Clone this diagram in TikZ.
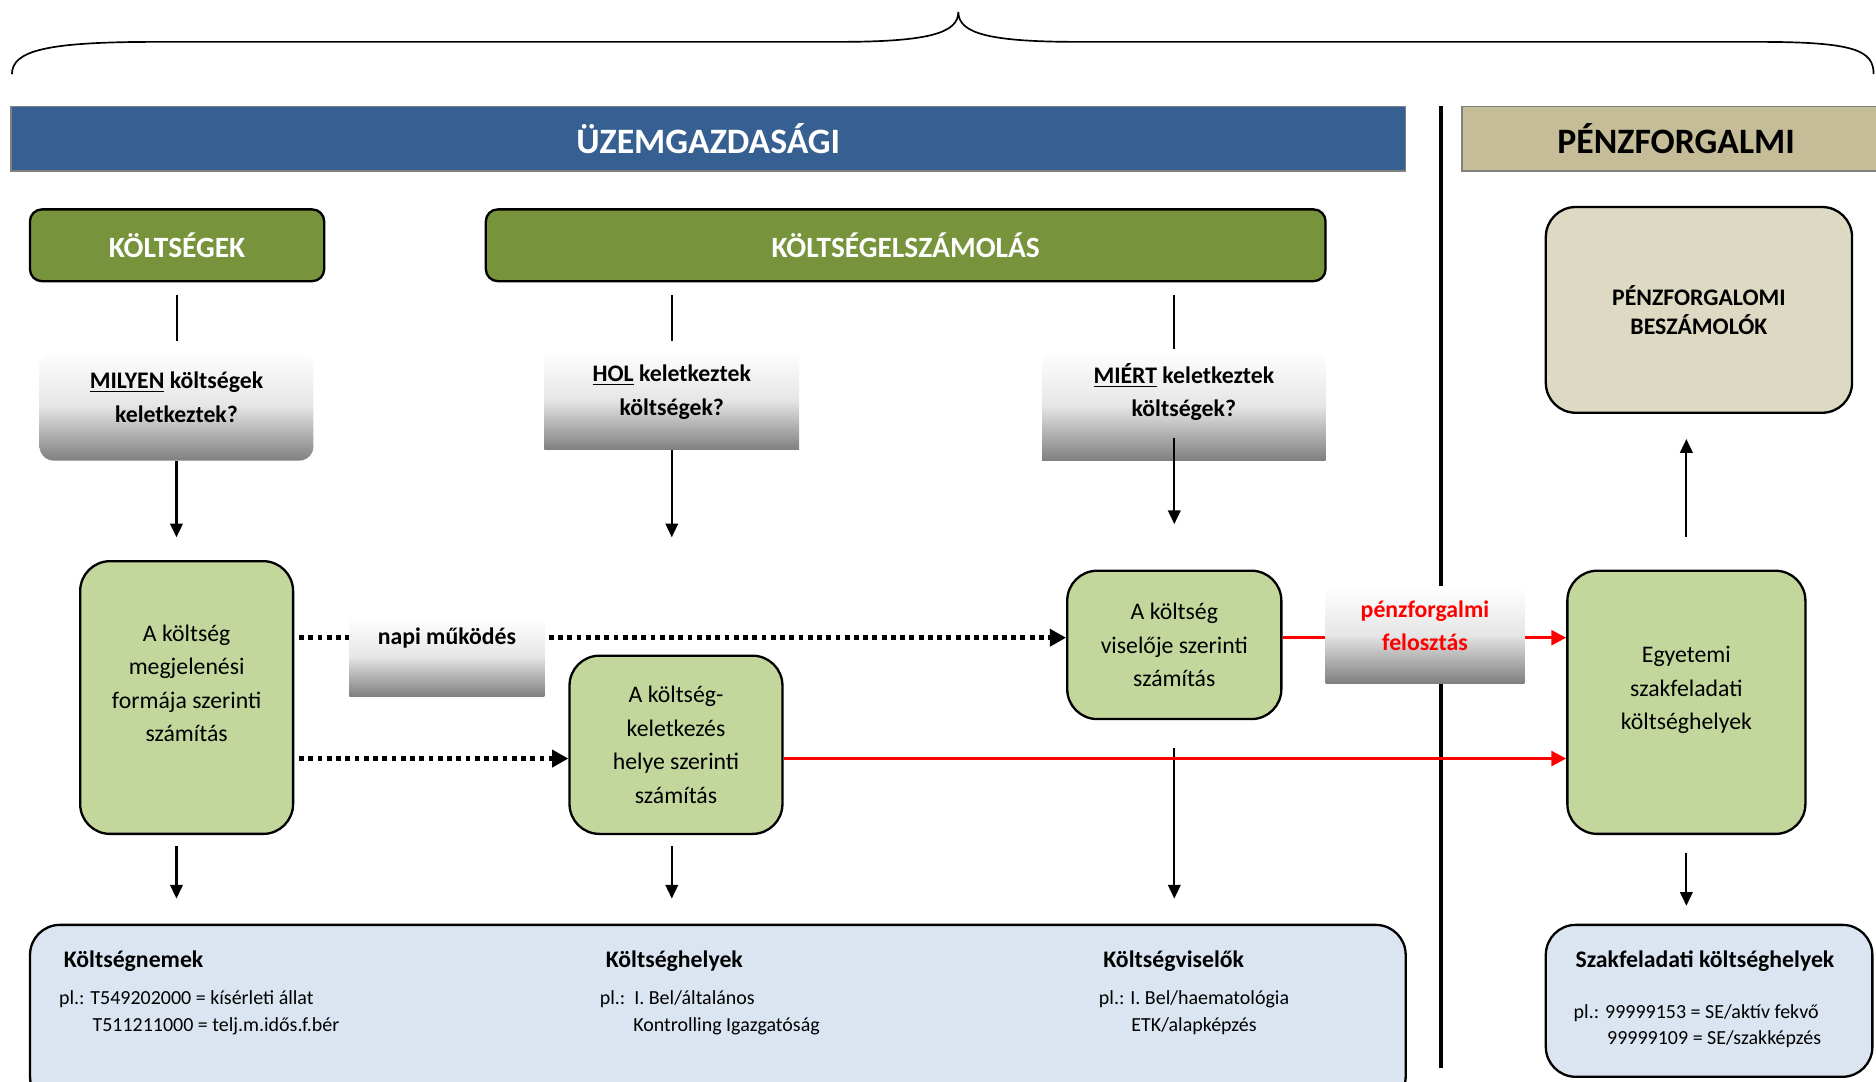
\documentclass[tikz,border=0pt]{standalone}
\usepackage{fontspec}
\setmainfont{Carlito}
\usepackage{tikz}
\usetikzlibrary{arrows.meta,positioning}
\definecolor{uzemkek}{RGB}{55,96,146}
\definecolor{penzbarna}{RGB}{196,189,151}
\definecolor{sotetzold}{RGB}{119,147,60}
\definecolor{vilagoszold}{RGB}{195,214,155}
\definecolor{bezs}{RGB}{221,217,195}
\definecolor{halvanykek}{RGB}{219,229,241}

\begin{document}
\begin{tikzpicture}[x=0.02cm, y=-0.02cm,
	every node/.style={inner sep=0pt, align=center, font=\fontsize{11.3}{15.9}\selectfont},
	bar/.style={draw=gray, line width=0.6pt, minimum height=1.08cm, font=\fontsize{17}{20}\selectfont\bfseries},
	hdr/.style={draw, line width=1.1pt, rounded corners=0.2cm, fill=sotetzold, text=white, minimum height=1.2cm, font=\fontsize{14}{17}\selectfont\bfseries},
	kerdes/.style={top color=white, bottom color=black!50, middle color=black!10, font=\fontsize{11.3}{15.9}\selectfont\bfseries},
	szamit/.style={draw, line width=1.1pt, rounded corners=0.5cm, fill=vilagoszold},
	pelda/.style={draw, line width=1.1pt, rounded corners=0.5cm, fill=halvanykek},
	fej/.style={font=\fontsize{11.3}{14}\selectfont\bfseries},
	pl/.style={align=left, font=\fontsize{9.5}{12.5}\selectfont},
	vonal/.style={line width=1pt},
	nyil/.style={line width=1pt, -{Triangle[length=0.23cm, width=0.21cm]}},
	pontozott/.style={line width=2.3pt, dash pattern=on 2.3pt off 2.1pt, -{Triangle[length=0.27cm, width=0.28cm]}},
	piros/.style={red, line width=1.4pt, -{Triangle[length=0.25cm, width=0.25cm]}}]
	\useasboundingbox (0,0) rectangle (1568,904);
	\clip (0,0) rectangle (1568,904);
	\draw[line width=0.8pt] (10,62) .. controls (10,42) and (40,35) .. (130,35) -- (700,35) .. controls (775,35) and (801,28) .. (801,10) .. controls (801,28) and (827,35) .. (902,35) -- (1470,35) .. controls (1550,35) and (1566,42) .. (1566,62);
	\node (uzem) at (592,116) [bar, fill=uzemkek, text=white, minimum width=23.32cm] {ÜZEMGAZDASÁGI};
	\coordinate (valaszt1) at (1204,89);
	\coordinate (valaszt2) at (1204,893);
	\draw[line width=1.9pt] (valaszt1) -- (valaszt2);
	\node (penzfej) at (1401,116) [bar, fill=penzbarna, minimum width=7.16cm] {PÉNZFORGALMI};
	\node (kolt) at (148,205) [hdr, minimum width=4.92cm] {KÖLTSÉGEK};
	\node (kelsz) at (757,205) [hdr, minimum width=14.04cm] {KÖLTSÉGELSZÁMOLÁS};
	\node (milyen) at (147.5,339) [kerdes, rounded corners=0.24cm, minimum width=4.58cm, minimum height=1.84cm, text depth=0.28cm] {\underline{MILYEN} költségek\\keletkeztek?};
	\node (hol) at (561.5,334.5) [kerdes, minimum width=4.26cm, minimum height=1.66cm, text depth=0.34cm] {\underline{HOL} keletkeztek\\költségek?};
	\node (mier) at (989.5,339) [kerdes, minimum width=4.74cm, minimum height=1.84cm, text depth=0.52cm] {\underline{MIÉRT} keletkeztek\\költségek?};
	\node (box1) at (156,583) [szamit, minimum width=3.56cm, minimum height=4.56cm, text depth=0.48cm] {A költség\\megjelenési\\formája szerinti\\számítás};
	\node (box2) at (565,622.5) [szamit, minimum width=3.56cm, minimum height=2.98cm] {A költség-\\keletkezés\\helye szerinti\\számítás};
	\node (box3) at (981.5,539) [szamit, minimum width=3.58cm, minimum height=2.48cm] {A költség\\viselője szerinti\\számítás};
	\node (box4) at (1409.5,587) [szamit, minimum width=3.98cm, minimum height=4.4cm, text depth=0.48cm] {Egyetemi\\szakfeladati\\költséghelyek};
	\node (beszam) at (1420,259) [draw, line width=1.1pt, rounded corners=0.5cm, fill=bezs, minimum width=5.12cm, minimum height=3.44cm, font=\fontsize{11.3}{13.7}\selectfont\bfseries] {PÉNZFORGALOMI\\BESZÁMOLÓK};
	\node (also) at (600,849) [pelda, minimum width=23cm, minimum height=3.04cm] {};
	\node (jobbalso) at (1428.5,836.5) [pelda, minimum width=5.46cm, minimum height=2.54cm] {};
	\node (nemek) at (53,803) [fej, anchor=west] {Költségnemek};
	\node (nemekpl) at (49,828) [pl, anchor=north west] {pl.: T549202000 = kísérleti állat\\\hspace*{0.56cm}T511211000 = telj.m.idős.f.bér};
	\node (helyek) at (506,803) [fej, anchor=west] {Költséghelyek};
	\node (helyekpl) at (501,828) [pl, anchor=north west] {pl.:\ \ I. Bel/általános\\\hspace*{0.56cm}Kontrolling Igazgatóság};
	\node (viselok) at (981,803) [fej] {Költségviselők};
	\node (viselokpl) at (998,828) [pl, align=center, anchor=north] {pl.: I. Bel/haematológia\\ETK/alapképzés};
	\node (szakfej) at (1425,803) [fej] {Szakfeladati költséghelyek};
	\node (szakpl) at (1315,839) [pl, anchor=north west] {pl.: 99999153 = SE/aktív fekvő\\\hspace*{0.56cm}99999109 = SE/szakképzés};
	\coordinate (sor1) at (0,533);
	\coordinate (sor2) at (0,634);
	\draw[vonal, shorten <=0.22cm, shorten >=0.16cm] (kolt.south) -- (kolt.south |- milyen.north);
	\draw[vonal, shorten <=0.22cm, shorten >=0.16cm] (kelsz.south -| hol.north) -- (hol.north);
	\draw[vonal, shorten <=0.22cm, shorten >=0.02cm] (kelsz.south -| box3.north) -- (mier.north -| box3.north);
	\draw[nyil, shorten >=0.38cm] (milyen.south) -- (milyen.south |- box1.north);
	\draw[nyil, shorten >=1.96cm] (hol.south) -- (hol.south |- box2.north);
	\draw[nyil, shorten <=-0.38cm, shorten >=0.76cm] (mier.south -| box3.north) -- (box3.north);
	\draw[pontozott, shorten <=0.08cm] (box1.east |- sor1) -- (box3.west |- sor1);
	\draw[pontozott, shorten <=0.08cm] (box1.east |- sor2) -- (box2.west |- sor2);
	\draw[nyil, shorten <=0.18cm, shorten >=0.42cm] (milyen.south |- box1.south) -- (milyen.south |- also.north);
	\draw[nyil, shorten <=0.18cm, shorten >=0.42cm] (hol.south |- box2.south) -- (hol.south |- also.north);
	\draw[nyil, shorten <=0.46cm, shorten >=0.42cm] (box3.south) -- (box3.south |- also.north);
	\draw[piros] (box3.east |- sor1) -- (box4.west |- sor1);
	\draw[piros] (box2.east |- sor2) -- (box4.west |- sor2);
	\draw[nyil, shorten <=0.54cm, shorten >=0.42cm] (box4.north) -- (box4.north |- beszam.south);
	\draw[nyil, shorten <=0.3cm, shorten >=0.3cm] (box4.south) -- (box4.south |- jobbalso.north);
	\node (napi) at (373.5,549) [kerdes, minimum width=3.26cm, minimum height=1.32cm, text depth=0.69cm] {napi működés};
	\node (penz) at (1191,530.5) [kerdes, text=red, minimum width=3.32cm, minimum height=1.62cm, text depth=0.3cm] {pénzforgalmi\\felosztás};
\end{tikzpicture}
\end{document}
